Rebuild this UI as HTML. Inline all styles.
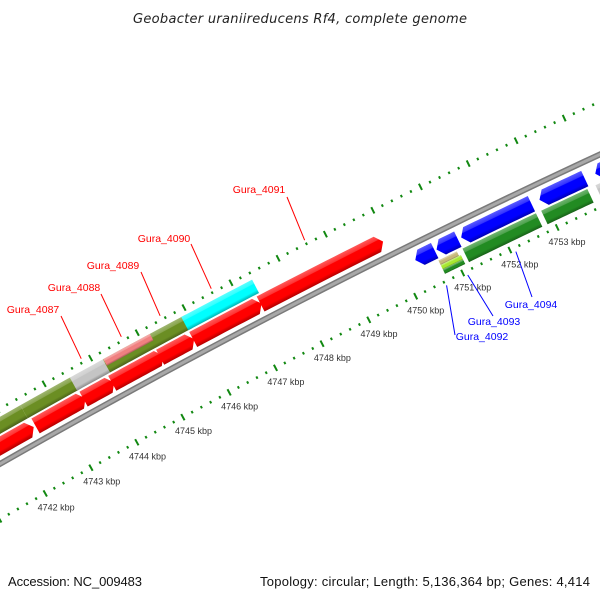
<!DOCTYPE html>
<html><head><meta charset="utf-8"><style>
html,body{margin:0;padding:0;background:#fff}
svg{display:block}
</style></head><body>
<svg id="chart" width="600" height="600" viewBox="0 0 600 600" xmlns="http://www.w3.org/2000/svg">
<rect width="600" height="600" fill="#fff"/>
<g id="defs-holder"></g>
<g id="backbone-layer"></g>
<g id="ruler-layer"></g>
<g id="feature-layer"></g>
<g id="label-layer"></g>
<text x="300" y="23" text-anchor="middle" font-family="DejaVu Sans, sans-serif" font-style="italic" font-size="13" fill="#222" textLength="334">Geobacter uraniireducens Rf4, complete genome</text>
<text x="8" y="586" font-family="Liberation Sans, sans-serif" font-size="13" fill="#111" textLength="134">Accession: NC_009483</text>
<text x="590" y="586" text-anchor="end" font-family="Liberation Sans, sans-serif" font-size="13" fill="#111" textLength="330">Topology: circular; Length: 5,136,364 bp; Genes: 4,414</text>
</svg>
<script>
// ---- data (kbp) ----
const outer1Names = ["gene-a","gene-b","gene-c","gene-d","gene-e","gene-f","Gura_4091"];
const outer1Start = [4739.0, 4742.47, 4743.51, 4744.13, 4745.16, 4745.87, 4747.31];
const outer1End   = [4742.43, 4743.55, 4744.17, 4745.23, 4745.89, 4747.33, 4749.91];

const outer2Names = ["olive-1","olive-2","Gura_4087","Gura_4089","Gura_4090"];
const outer2Start = [4739.0, 4742.41, 4743.48, 4744.19, 4745.87];
const outer2End   = [4742.41, 4743.51, 4744.19, 4745.96, 4747.38];
const outer2Color = ["#6b8e23","#6b8e23","#c4c4c4","#6b8e23","#00ffff"];
const pinkStart = [4744.2];
const pinkEnd   = [4745.2];

const inner1Names = ["blue-1","blue-2","blue-3","blue-4","blue-5"];
const inner1Start = [4750.30, 4750.75, 4751.27, 4752.92, 4754.09];
const inner1End   = [4750.71, 4751.20, 4752.75, 4753.87, 4756.5];

const inner2Names = ["Gura_4094","green-2","gray-2"];
const inner2Start = [4751.20, 4752.86, 4754.0];
const inner2End   = [4752.75, 4753.83, 4756.5];
const inner2Color = ["#228b22","#228b22","#c4c4c4"];
const stackStart = [4750.69, 4750.69, 4750.69];
const stackEnd   = [4751.08, 4751.12, 4751.12];
const stackColor = ["#c8b97a","#a8e830","#228b22"];

const tickLabels = [4742,4743,4744,4745,4746,4747,4748,4749,4750,4751,4752,4753];

const labelNames  = ["Gura_4087","Gura_4088","Gura_4089","Gura_4090","Gura_4091","Gura_4092","Gura_4093","Gura_4094"];
const labelAnchor = [4743.84, 4744.70, 4745.53, 4746.62, 4748.60, 4750.62, 4751.07, 4752.09];
const labelSide   = [1,1,1,1,1,-1,-1,-1];
// layout of label text (pixel placement, not data)
const labelEnd  = [[61,316],[101,294],[141,272],[191,244],[287,197],[455,335],[493,316],[532,297]];
const labelText = [[33,313],[74,291],[113,269],[164,242],[259,193],[482,340],[494,325],[531,308]];

// ---- geometry ----
const NS="http://www.w3.org/2000/svg";
const cx=3909, cy=7306, R0=7880;
const a1=Math.atan2(493-cy,45-cx), a2=Math.atan2(227-cy,557-cx);
function ang(k){return a1+(k-4742)*(a2-a1)/11;}
function pt(k,r){const a=ang(k);return [cx+r*Math.cos(a), cy+r*Math.sin(a)];}
function arcPts(b1,b2,r,n){const p=[];for(let i=0;i<=n;i++){p.push(pt(b1+(b2-b1)*i/n,r));}return p;}
function mk(tag,attrs,parent){const e=document.createElementNS(NS,tag);for(const k in attrs)e.setAttribute(k,attrs[k]);parent.appendChild(e);return e;}
const defs=mk('defs',{},document.getElementById('chart'));
let gid=0;
function shade(hex,f){let c=parseInt(hex.slice(1),16);let r=c>>16,g=(c>>8)&255,b=c&255;
 if(f>0){r=r+(255-r)*f;g=g+(255-g)*f;b=b+(255-b)*f;}else{r*=1+f;g*=1+f;b*=1+f;}
 return 'rgb('+Math.round(r)+','+Math.round(g)+','+Math.round(b)+')';}
function grad(b1,b2,rIn,rOut,color){
 const m=(b1+b2)/2;const po=pt(m,rOut),pi=pt(m,rIn);
 const id='g'+(gid++);
 const lg=mk('linearGradient',{id:id,gradientUnits:'userSpaceOnUse',x1:po[0],y1:po[1],x2:pi[0],y2:pi[1]},defs);
 mk('stop',{offset:'0',"stop-color":shade(color,0.35)},lg);
 mk('stop',{offset:'0.28',"stop-color":shade(color,0.2)},lg);
 mk('stop',{offset:'0.32',"stop-color":color},lg);
 mk('stop',{offset:'0.75',"stop-color":color},lg);
 mk('stop',{offset:'1',"stop-color":shade(color,-0.3)},lg);
 return 'url(#'+id+')';}
function poly(pts){return 'M'+pts.map(p=>p[0].toFixed(2)+','+p[1].toFixed(2)).join('L')+'Z';}
function band(b1,b2,rIn,rOut,color,parent,name){
 const p=arcPts(b1,b2,rOut,12).concat(arcPts(b2,b1,rIn,12));
 const e=mk('path',{d:poly(p),fill:grad(b1,b2,rIn,rOut,color)},parent);
 
 
 return e;}
function arrow(b1,b2,rIn,rOut,color,dir,parent,name){
 const h=0.12, rm=(rIn+rOut)/2; let p;
 if(dir>0){const bh=Math.max(b1,b2-h);p=arcPts(b1,bh,rOut,12).concat([pt(b2,rm)]).concat(arcPts(bh,b1,rIn,12));}
 else{const bh=Math.min(b2,b1+h);p=[pt(b1,rm)].concat(arcPts(bh,b2,rOut,12)).concat(arcPts(b2,bh,rIn,12));}
 const e=mk('path',{d:poly(p),fill:grad(b1,b2,rIn,rOut,color)},parent);
 
 
 return e;}

// backbone
const bbL=document.getElementById('backbone-layer');
const bbp=arcPts(4738,4758,R0,40);
const bbd='M'+bbp.map(p=>p[0].toFixed(2)+','+p[1].toFixed(2)).join('L');
mk('path',{d:bbd,stroke:'#7a7a7a','stroke-width':6,fill:'none'},bbL);
mk('path',{d:bbd,stroke:'#a8a8a8','stroke-width':3,fill:'none'},bbL);

// rulers
const rL=document.getElementById('ruler-layer');
[R0+48,R0-48].forEach((rr,ri)=>{
 for(let i=47380;i<=47580;i+=2){
  const k=i/10, major=(i%10===0), len=major?3.5:1.3;
  const p1=pt(k,rr-len),p2=pt(k,rr+len);
  const t=mk('line',{x1:p1[0],y1:p1[1],x2:p2[0],y2:p2[1],stroke:'#118811','stroke-width':2},rL);
  
  
 }
});
tickLabels.forEach(k=>{
 const p=pt(k,R0-48-16);
 const t=mk('text',{x:p[0]+3,y:p[1]+3,'text-anchor':'middle','font-family':'Liberation Sans, sans-serif','font-size':9,fill:'#333'},rL);
 t.textContent=k+' kbp';
 
 
});

// features
const fL=document.getElementById('feature-layer');
outer1Start.forEach((s,i)=>arrow(s,outer1End[i],R0+7,R0+24,'#ff0000',1,fL,'feature-'+outer1Names[i]));
outer2Start.forEach((s,i)=>band(s,outer2End[i],R0+26,R0+41,outer2Color[i],fL,'feature-'+outer2Names[i]));
pinkStart.forEach((s,i)=>band(s,pinkEnd[i],R0+33.5,R0+41,'#f08080',fL,'feature-Gura_4088'));
inner1Start.forEach((s,i)=>arrow(s,inner1End[i],R0-24,R0-7,'#0000ff',-1,fL,'feature-'+inner1Names[i]));
inner2Start.forEach((s,i)=>band(s,inner2End[i],R0-41,R0-26,inner2Color[i],fL,'feature-'+inner2Names[i]));
stackStart.forEach((s,i)=>band(s,stackEnd[i],R0-26-5*(i+1),R0-26-5*i,stackColor[i],fL,'feature-stack-'+i));

// labels
const lL=document.getElementById('label-layer');
labelNames.forEach((n,i)=>{
 const col=labelSide[i]>0?'#ff0000':'#0000ff';
 const a=pt(labelAnchor[i],R0+labelSide[i]*52);
 const ln=mk('line',{x1:a[0],y1:a[1],x2:labelEnd[i][0],y2:labelEnd[i][1],stroke:col,'stroke-width':1},lL);
 
 
 const t=mk('text',{x:labelText[i][0],y:labelText[i][1],'text-anchor':'middle','font-family':'Liberation Sans, sans-serif','font-size':10.5,fill:col},lL);
 t.textContent=n;
 
 
});
</script>
</body></html>
